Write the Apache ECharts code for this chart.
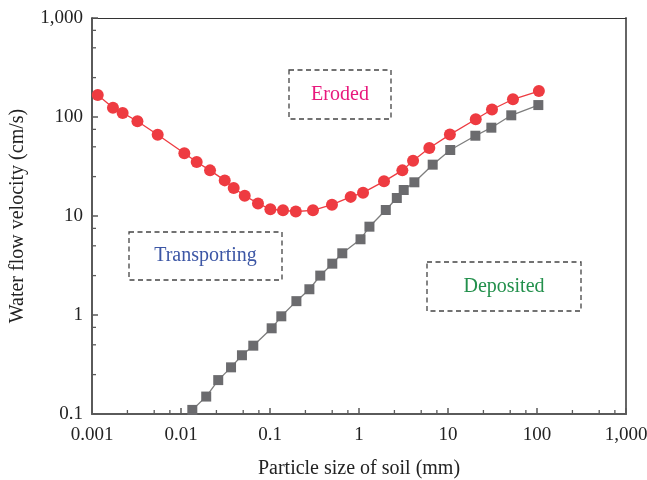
<!DOCTYPE html>
<html>
<head>
<meta charset="utf-8">
<script src="https://cdn.jsdelivr.net/npm/echarts@6/dist/echarts.min.js"></script>
<style>html,body{margin:0;padding:0;background:#fff}#c{width:647px;height:480px}</style>
</head>
<body>
<div id="c"></div>
<script>
// Eroded curve (red circles): [particle size mm, velocity cm/s]
const erodedX = [0.00116,0.00172,0.00221,0.00324,0.00547,0.0109,0.0150,0.0212,0.0310,0.0391,0.0520,0.0733,0.101,0.140,0.195,0.304,0.497,0.807,1.11,1.91,3.07,4.05,6.17,10.5,20.5,31.2,53.7,105];
const erodedY = [167,124,110,90.5,66.3,43.0,35.1,28.9,22.9,19.2,16.0,13.4,11.7,11.4,11.1,11.4,13.0,15.6,17.2,22.4,28.9,36.2,48.6,66.4,94.8,119,151,183];
// Deposited curve (grey squares)
const depositX = [0.0134,0.0192,0.0262,0.0365,0.0484,0.0649,0.1044,0.134,0.198,0.277,0.367,0.501,0.649,1.04,1.31,2.0,2.66,3.18,4.19,6.73,10.6,20.3,30.7,51.4,103.5];
const depositY = [0.110,0.150,0.220,0.296,0.392,0.49,0.734,0.97,1.38,1.82,2.50,3.30,4.20,5.82,7.80,11.5,15.2,18.3,21.9,33.0,46.4,64.7,78,104,132];
// Axis settings
const xMin = 0.001, xMax = 1000, yMin = 0.1, yMax = 1000;
const minorFactors = [2.5, 5, 7.5];
const xDecades = [0.001, 0.01, 0.1, 1, 10, 100];
const yDecades = [0.1, 1, 10, 100];
const labels = ['Eroded', 'Transporting', 'Deposited'];

const xMinor = [], yMinor = [];
xDecades.forEach(d => minorFactors.forEach(f => xMinor.push(d * f)));
yDecades.forEach(d => minorFactors.forEach(f => yMinor.push(d * f)));

function fmt(v) {
  const n = Number(Number(v).toPrecision(6));
  return n.toLocaleString('en-US', {maximumFractionDigits: 3});
}
const FONT = 'Liberation Serif';
const axisColor = '#5a5a5a';

const chart = echarts.init(document.getElementById('c'), null, {renderer: 'canvas'});
const grid = {left: 92, right: 21, top: 18, bottom: 66, containLabel: false, outerBoundsMode: 'none'};

function boxGraphic(x, y, w, h, text, color) {
  return {
    type: 'group', x: x, y: y,
    children: [
      {type: 'rect', shape: {x: 0, y: 0, width: w, height: h},
       style: {fill: 'none', stroke: '#444', lineWidth: 1.3, lineDash: [5, 3.5]}},
      {type: 'text', x: w / 2, y: h / 2,
       style: {text: text, fill: color, font: '20px "' + FONT + '"', textAlign: 'center', textVerticalAlign: 'middle'}}
    ]
  };
}

chart.setOption({
  animation: false,
  backgroundColor: '#fff',
  grid: grid,
  xAxis: [{
    type: 'log', logBase: 10, min: xMin, max: xMax,
    name: 'Particle size of soil (mm)', nameLocation: 'middle', nameGap: 45,
    nameTextStyle: {fontFamily: FONT, fontSize: 20, color: '#222'},
    axisLine: {lineStyle: {color: axisColor, width: 2}},
    axisTick: {inside: true, length: 6, lineStyle: {color: axisColor, width: 1.5}},
    axisLabel: {fontFamily: FONT, fontSize: 19, color: '#222', margin: 12, formatter: fmt},
    splitLine: {show: false}
  }, {
    type: 'log', logBase: 10, min: xMin, max: xMax, position: 'top',
    axisLine: {lineStyle: {color: '#333', width: 1}}, axisTick: {show: false}, axisLabel: {show: false}, splitLine: {show: false}
  }],
  yAxis: [{
    type: 'log', logBase: 10, min: yMin, max: yMax,
    name: 'Water flow velocity (cm/s)', nameLocation: 'middle', nameGap: 64,
    nameTextStyle: {fontFamily: FONT, fontSize: 20, color: '#222'},
    axisLine: {lineStyle: {color: axisColor, width: 2}},
    axisTick: {inside: true, length: 6, lineStyle: {color: axisColor, width: 1.5}},
    axisLabel: {fontFamily: FONT, fontSize: 19, color: '#222', margin: 9, formatter: fmt},
    splitLine: {show: false}
  }, {
    type: 'log', logBase: 10, min: yMin, max: yMax, position: 'right',
    axisLine: {lineStyle: {color: '#666', width: 2}}, axisTick: {show: false}, axisLabel: {show: false}, splitLine: {show: false}
  }],
  series: [
    {
      type: 'custom', name: 'xminor', silent: true, clip: false, z: 5,
      data: xMinor.map(v => [v, yMin]),
      renderItem: (params, api) => {
        const p = api.coord([api.value(0), api.value(1)]);
        return {type: 'line', shape: {x1: p[0], y1: p[1], x2: p[0], y2: p[1] - 4},
                style: {stroke: axisColor, lineWidth: 1.3}};
      }
    },
    {
      type: 'custom', name: 'yminor', silent: true, clip: false, z: 5,
      data: yMinor.map(v => [xMin, v]),
      renderItem: (params, api) => {
        const p = api.coord([api.value(0), api.value(1)]);
        return {type: 'line', shape: {x1: p[0], y1: p[1], x2: p[0] + 4, y2: p[1]},
                style: {stroke: axisColor, lineWidth: 1.3}};
      }
    },
    {
      type: 'line', name: 'Deposited', data: depositX.map((x, i) => [x, depositY[i]]),
      symbol: 'rect', symbolSize: 10, clip: false,
      itemStyle: {color: '#6b6b6e'}, lineStyle: {color: '#7d7d7d', width: 1.3}, z: 3
    },
    {
      type: 'line', name: 'Eroded', data: erodedX.map((x, i) => [x, erodedY[i]]),
      symbol: 'circle', symbolSize: 12, clip: false,
      itemStyle: {color: '#ee3b41'}, lineStyle: {color: '#ee3b41', width: 1.3}, z: 4
    }
  ],
  graphic: [
    boxGraphic(289, 70, 102, 49, labels[0], '#e8197d'),
    boxGraphic(129, 232, 153, 48, labels[1], '#3c56a5'),
    boxGraphic(427, 262, 154, 49, labels[2], '#23904c')
  ]
});
</script>
</body>
</html>
